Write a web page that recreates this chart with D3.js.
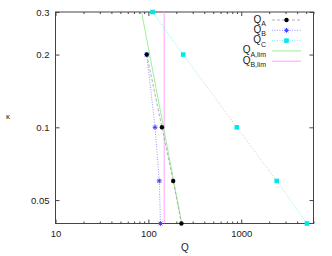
<!DOCTYPE html>
<html>
<head>
<meta charset="utf-8">
<script src="https://cdn.jsdelivr.net/npm/d3@7"></script>
<style>
  body { margin: 0; background: #fff; }
  svg { font-family: "Liberation Sans", Arial, sans-serif; }
</style>
</head>
<body>
<div id="chart"></div>
<script>
// values
const kappa = [0.2, 0.1, 0.06, 0.04];
const qA = [96, 140, 185, 227];
const qB = [96, 118, 131, 135];
const kappaC = [0.3, 0.2, 0.1, 0.06, 0.04];
const qC = [111, 237, 895, 2410, 5100];
const kappaLim = [0.3, 0.04];
const qALim = [84.5, 229];
const qBLim = [148, 148];

const xTicks = [10, 100, 1000];
const yTicks = [0.3, 0.2, 0.1, 0.05];

const W = 332, H = 256;
const m = { left: 55.5, right: 313.5, top: 12, bottom: 223.5 };

const svg = d3.select("#chart").append("svg")
  .attr("width", W)
  .attr("height", H);

const x = d3.scaleLog().domain([10, 6000]).range([m.left, m.right]);
const y = d3.scaleLog().domain([0.04, 0.3]).range([m.bottom, m.top]);

// minor ticks on x (2..9 per decade)
const xMinor = [];
[10, 100, 1000].forEach(d => {
  for (let k = 2; k <= 9; k++) if (d * k <= 6000) xMinor.push(d * k);
});

const axisColor = "#444";

// bottom axis
svg.append("g").attr("transform", `translate(0,${m.bottom})`)
  .call(d3.axisBottom(x).tickValues(xTicks).tickFormat(d3.format("d")).tickSizeInner(-4).tickSizeOuter(0).tickPadding(7));
svg.append("g").attr("transform", `translate(0,${m.bottom})`)
  .call(d3.axisBottom(x).tickValues(xMinor).tickFormat("").tickSizeInner(-2).tickSizeOuter(0));
// top mirror
svg.append("g").attr("transform", `translate(0,${m.top})`)
  .call(d3.axisTop(x).tickValues(xTicks).tickFormat("").tickSizeInner(-4).tickSizeOuter(0));
svg.append("g").attr("transform", `translate(0,${m.top})`)
  .call(d3.axisTop(x).tickValues(xMinor).tickFormat("").tickSizeInner(-2).tickSizeOuter(0));
// left axis
svg.append("g").attr("transform", `translate(${m.left},0)`)
  .call(d3.axisLeft(y).tickValues(yTicks).tickFormat(d => String(d)).tickSizeInner(-4).tickSizeOuter(0).tickPadding(6));
// right mirror
svg.append("g").attr("transform", `translate(${m.right},0)`)
  .call(d3.axisRight(y).tickValues(yTicks).tickFormat("").tickSizeInner(-4).tickSizeOuter(0));

svg.selectAll(".domain").remove();
svg.selectAll(".tick line").attr("stroke", axisColor);
svg.selectAll(".tick text").attr("font-size", 9.5).attr("fill", "#222")
  .attr("font-family", "Liberation Sans, Arial, sans-serif");

// frame
svg.append("rect")
  .attr("x", m.left).attr("y", m.top)
  .attr("width", m.right - m.left).attr("height", m.bottom - m.top)
  .attr("fill", "none").attr("stroke", axisColor).attr("stroke-width", 1);

// axis labels
svg.append("text").attr("x", 185).attr("y", 251).attr("text-anchor", "middle")
  .attr("font-size", 10).attr("fill", "#222").text("Q");
svg.append("text").attr("x", 8).attr("y", 119).attr("text-anchor", "middle")
  .attr("font-size", 8).attr("fill", "#222").text("κ");

// clip
svg.append("clipPath").attr("id", "clip").append("rect")
  .attr("x", m.left).attr("y", m.top).attr("width", m.right - m.left).attr("height", m.bottom - m.top);

const line = d3.line().x(d => x(d[0])).y(d => y(d[1]));
const plot = svg.append("g");
const lines = plot.append("g").attr("clip-path", "url(#clip)");

const series = [
  { sub: "A", q: qA, k: kappa, stroke: "#a8a8a8", dash: "3,2", marker: "circle", mcolor: "#000" },
  { sub: "B", q: qB, k: kappa, stroke: "#8a8aff", dash: "1,1.5", marker: "star", mcolor: "#4040ff" },
  { sub: "C", q: qC, k: kappaC, stroke: "#70f0f0", dash: "1,1.5", marker: "square", mcolor: "#00e8e8" },
  { sub: "A,lim", q: qALim, k: kappaLim, stroke: "#90ee90", dash: null, marker: null },
  { sub: "B,lim", q: qBLim, k: kappaLim, stroke: "#ff99ff", dash: null, marker: null }
];

function drawMarker(g, type, cx, cy, color) {
  if (type === "circle") {
    g.append("circle").attr("cx", cx).attr("cy", cy).attr("r", 2.2).attr("fill", color);
  } else if (type === "square") {
    g.append("rect").attr("x", cx - 2.3).attr("y", cy - 2.3).attr("width", 4.6).attr("height", 4.6).attr("fill", color);
  } else if (type === "star") {
    const s = 2.4;
    const p = `M${cx - s},${cy}L${cx + s},${cy}M${cx},${cy - s}L${cx},${cy + s}` +
      `M${cx - s * 0.75},${cy - s * 0.75}L${cx + s * 0.75},${cy + s * 0.75}` +
      `M${cx - s * 0.75},${cy + s * 0.75}L${cx + s * 0.75},${cy - s * 0.75}`;
    g.append("path").attr("d", p).attr("stroke", color).attr("stroke-width", 1).attr("fill", "none");
  }
}

// draw in reverse so QA sits on top
series.slice().reverse().forEach(s => {
  const pts = s.q.map((q, i) => [q, s.k[i]]);
  lines.append("path").datum(pts)
    .attr("d", line)
    .attr("fill", "none")
    .attr("stroke", s.stroke)
    .attr("stroke-width", 0.9)
    .attr("stroke-dasharray", s.dash);
});
series.slice().reverse().forEach(s => {
  if (!s.marker) return;
  s.q.forEach((q, i) => drawMarker(plot, s.marker, x(q), y(s.k[i]), s.mcolor));
});

// legend
const lg = svg.append("g");
const lx0 = 272, lx1 = 301, ltext = 266;
series.forEach((s, i) => {
  const ly = 20 + i * 10.3;
  const t = lg.append("text").attr("x", ltext).attr("y", ly + 2.5)
    .attr("text-anchor", "end").attr("fill", "#222").attr("font-size", 10);
  t.append("tspan").text("Q");
  t.append("tspan").attr("font-size", 7).attr("dy", 3.5).text(s.sub);
  lg.append("line").attr("x1", lx0).attr("x2", lx1).attr("y1", ly).attr("y2", ly)
    .attr("stroke", s.stroke).attr("stroke-width", 0.9).attr("stroke-dasharray", s.dash);
  if (s.marker) drawMarker(lg, s.marker, (lx0 + lx1) / 2, ly, s.mcolor);
});
</script>
</body>
</html>
